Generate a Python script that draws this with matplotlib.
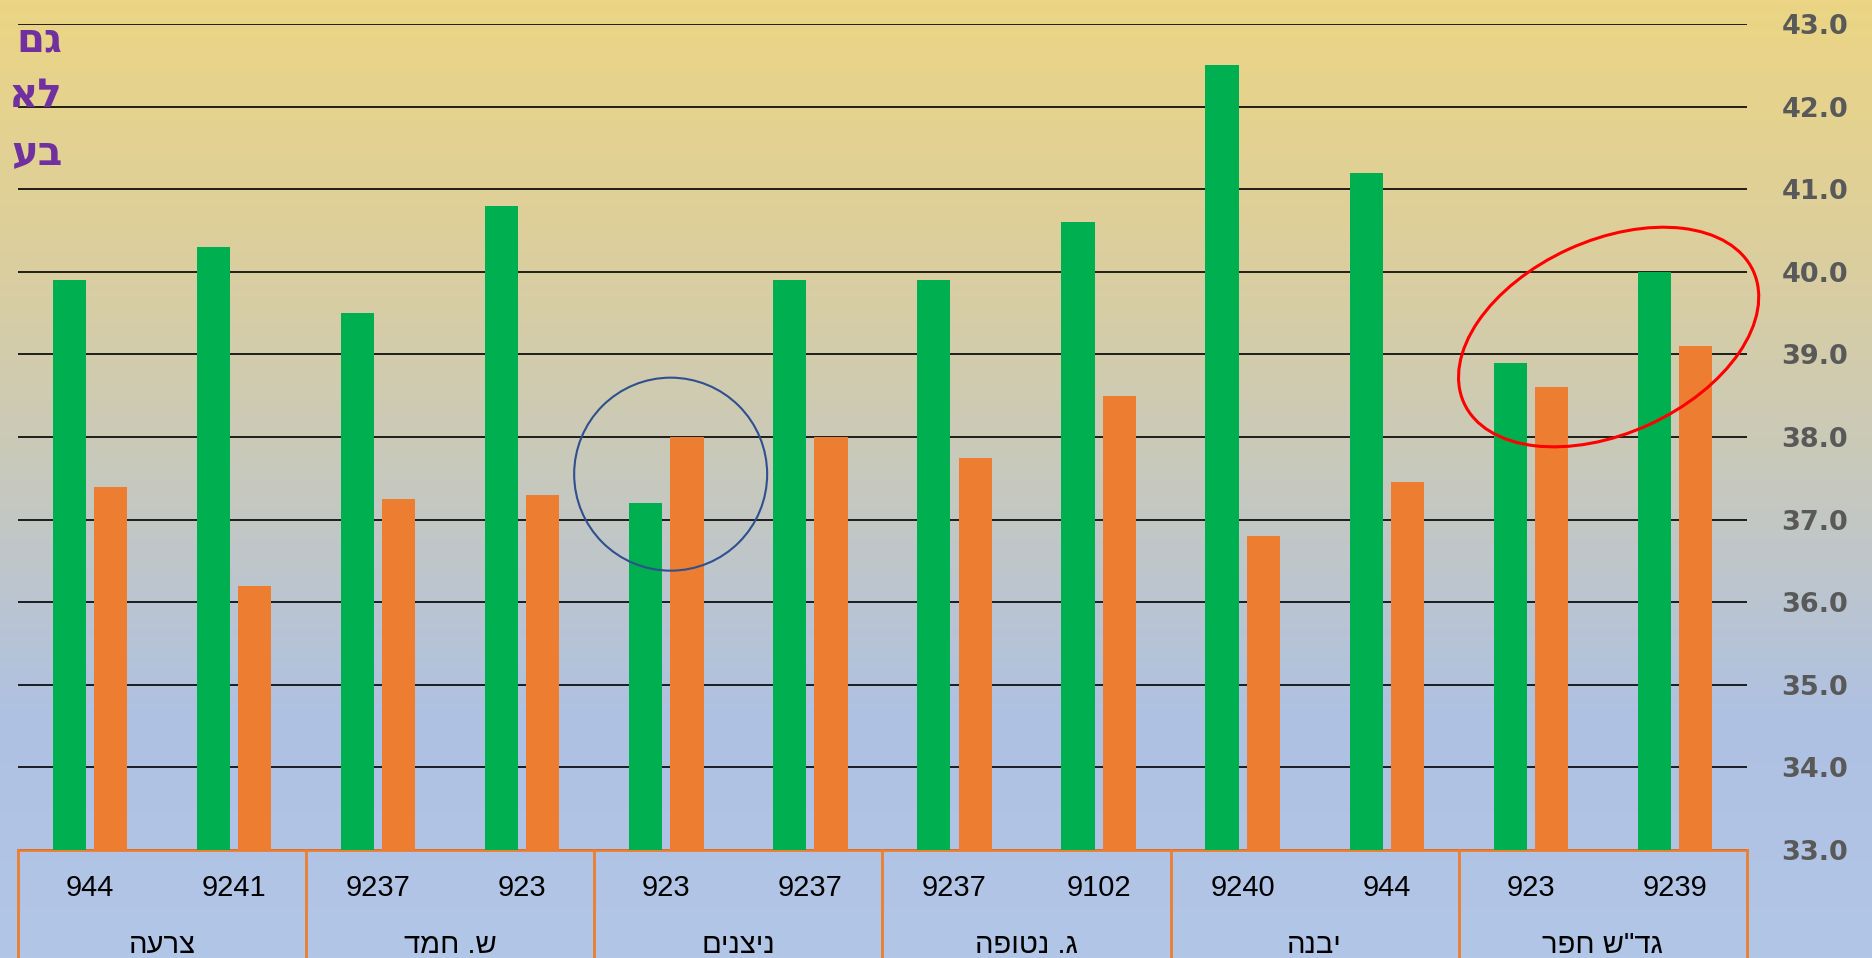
import numpy as np
import matplotlib
matplotlib.use("Agg")
import matplotlib.pyplot as plt
from matplotlib.colors import LinearSegmentedColormap
from matplotlib.patches import Ellipse
from matplotlib.transforms import ScaledTranslation, blended_transform_factory

# נתונים
stations = ["צרעה", "ש. חמד", "ניצנים", "ג. נטופה", "יבנה", 'גד"ש חפר']
lines = ["944", "9241", "9237", "923", "923", "9237",
         "9237", "9102", "9240", "944", "923", "9239"]
green_vals = [39.9, 40.3, 39.5, 40.8, 37.2, 39.9, 39.9, 40.6, 42.5, 41.2, 38.9, 40.0]
orange_vals = [37.4, 36.2, 37.25, 37.3, 38.0, 38.0, 37.75, 38.5, 36.8, 37.45, 38.6, 39.1]
y_ticks = [33, 34, 35, 36, 37, 38, 39, 40, 41, 42, 43]
side_text = ["גם", "לא", "בע"]

GREEN = "#00B050"
ORANGE = "#ED7D31"
HEB = ["Liberation Sans", "DejaVu Sans"]


def rtl(s):
    # matplotlib לא הופך טקסט מימין לשמאל
    return s[::-1]


fig = plt.figure(figsize=(18.72, 9.58), dpi=100)

# רקע מדורג
bg = fig.add_axes([0, 0, 1, 1], zorder=-5)
cmap = LinearSegmentedColormap.from_list(
    "bg", [(0.0, "#EBD584"), (0.25, "#DDCF9C"), (0.5, "#C7C9BD"),
           (0.75, "#AFC1E3"), (1.0, "#B2C6E8")])
bg.imshow(np.linspace(0, 1, 256).reshape(-1, 1), aspect="auto", cmap=cmap,
          extent=[0, 1, 0, 1])
bg.axis("off")

ax = fig.add_axes([0.0096, 0.1127, 0.9236, 0.8623])
ax.set_facecolor("none")

x = np.arange(len(lines))
w = 0.23
off = 0.143
ax.bar(x - off, green_vals, width=w, color=GREEN, zorder=3)
ax.bar(x + off, orange_vals, width=w, color=ORANGE, zorder=3)

ax.set_xlim(-0.5, len(lines) - 0.5)
ax.set_ylim(33, 43)
ax.set_yticks(y_ticks)
ax.set_yticklabels([f"{v:.1f}" for v in y_ticks])
ax.yaxis.tick_right()
ax.tick_params(axis="y", length=0, pad=25, labelsize=19.5, labelcolor="#595959")
for t in ax.get_yticklabels():
    t.set_fontweight("bold")
    t.set_family("DejaVu Sans")
ax.yaxis.grid(True, color="black", lw=1.2, zorder=1)

for s in ["top", "left", "right"]:
    ax.spines[s].set_visible(False)
ax.spines["bottom"].set_color(ORANGE)
ax.spines["bottom"].set_linewidth(2)

ax.set_xticks(x)
ax.set_xticklabels(lines, family=HEB, fontsize=21)
ax.tick_params(axis="x", length=0, pad=17)

# שמות התחנות ומסגרות
tr = blended_transform_factory(ax.transData, ax.transAxes)
for i, name in enumerate(stations):
    ax.text(2 * i + 0.5, -0.115, rtl(name), transform=tr, ha="center",
            va="center", family=HEB, fontsize=21, clip_on=False)
for k in range(len(stations) + 1):
    ax.plot([2 * k - 0.5, 2 * k - 0.5], [0, -0.2], transform=tr,
            color=ORANGE, lw=2, clip_on=False)

# עיגולים
t_blue = fig.dpi_scale_trans + ScaledTranslation(4.03, 37.55, ax.transData)
ax.add_patch(Ellipse((0, 0), 1.93, 1.93, transform=t_blue, fill=False,
                     ec="#2F4F8F", lw=1.5, zorder=5, clip_on=False))
t_red = fig.dpi_scale_trans + ScaledTranslation(10.54, 39.21, ax.transData)
ax.add_patch(Ellipse((0, 0), 3.18, 1.93, angle=24.5, transform=t_red,
                     fill=False, ec="red", lw=2.2, zorder=5, clip_on=False))

# טקסט סגול בצד שמאל (חתוך במקור)
for txt, yy in zip(side_text, [0.958, 0.9, 0.84]):
    fig.text(0.0335, yy, rtl(txt), ha="right", va="center", fontsize=29,
             fontweight="bold", color="#7030A0", family=["DejaVu Sans"])

fig.savefig("out.png", dpi=100)
